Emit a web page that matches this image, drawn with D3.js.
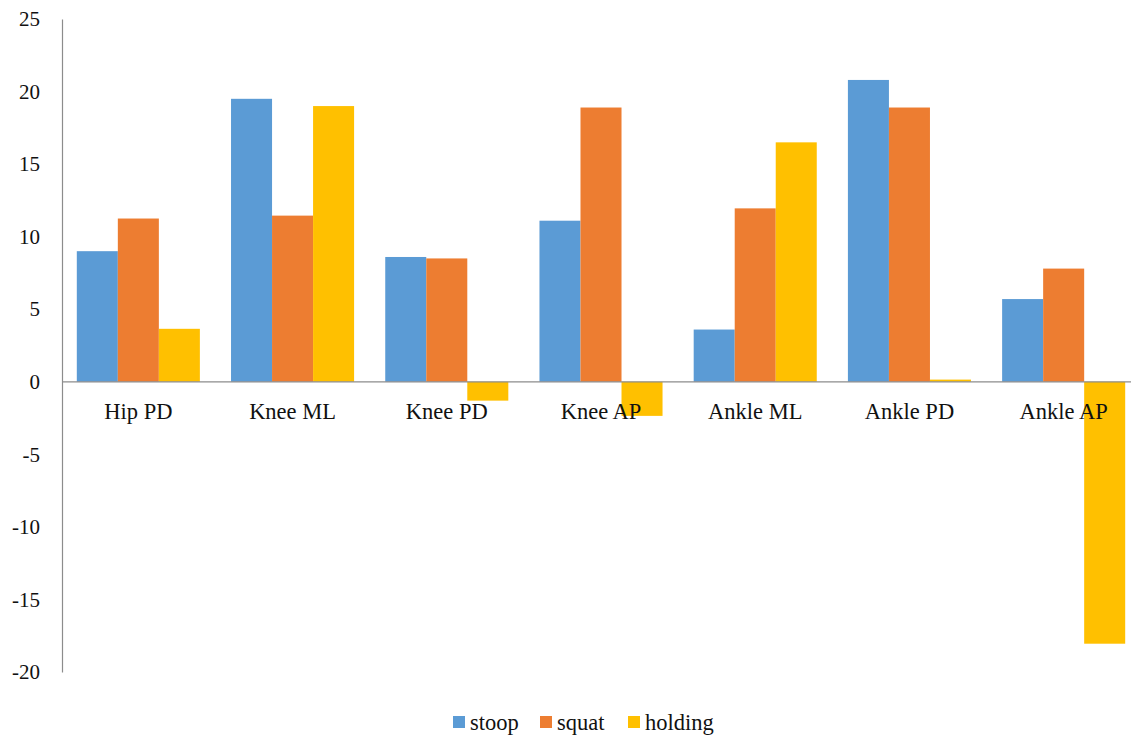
<!DOCTYPE html>
<html>
<head>
<meta charset="utf-8">
<script src="https://cdn.jsdelivr.net/npm/d3@7"></script>
<style>
  body { margin: 0; background: #fff; font-family: "Liberation Serif", serif; }
</style>
</head>
<body>
<svg id="chart" width="1131" height="735" font-family="Liberation Serif"></svg>
<script>
// Joint categories and per-condition values
const categories = ["Hip PD", "Knee ML", "Knee PD", "Knee AP", "Ankle ML", "Ankle PD", "Ankle AP"];
const seriesNames = ["stoop", "squat", "holding"];
const stoop   = [9.0, 19.5, 8.6, 11.1, 3.6, 20.8, 5.7];
const squat   = [11.25, 11.45, 8.5, 18.9, 11.95, 18.9, 7.8];
const holding = [3.65, 19.0, -1.3, -2.35, 16.5, 0.15, -18.05];
const yTicks  = [25, 20, 15, 10, 5, 0, -5, -10, -15, -20];
const colors  = ["#5b9bd5", "#ed7d31", "#ffc000"];

const seriesValues = [stoop, squat, holding];
const svg = d3.select("#chart");
const fontName = "Liberation Serif";

const plotLeft = 62, plotRight = 1140, plotTop = 19, plotBottom = 672;

const x = d3.scaleBand().domain(categories).range([plotLeft, plotRight]).paddingInner(0.202).paddingOuter(0.096);
const xs = d3.scaleBand().domain(seriesNames).range([0, x.bandwidth()]);
const y = d3.scaleLinear().domain([-20, 25]).range([plotBottom, plotTop]);

// Bars
const groups = svg.append("g").selectAll("g")
  .data(categories)
  .join("g")
  .attr("transform", d => `translate(${x(d)},0)`);

groups.selectAll("rect")
  .data((c, i) => seriesNames.map((s, j) => ({ s, j, v: seriesValues[j][i] })))
  .join("rect")
  .attr("x", d => xs(d.s))
  .attr("width", xs.bandwidth())
  .attr("y", d => y(Math.max(0, d.v)))
  .attr("height", d => Math.abs(y(d.v) - y(0)))
  .attr("fill", d => colors[d.j]);

// Vertical axis line and tick labels
const yAxis = d3.axisLeft(y).tickValues(yTicks).tickSize(0).tickPadding(22).tickFormat(d => String(d));
const ya = svg.append("g").attr("transform", `translate(${plotLeft},0)`).call(yAxis)
  .attr("font-family", fontName).attr("font-size", 21);
ya.select(".domain").attr("stroke", "#8c8c8c").attr("stroke-width", 1.2);
ya.selectAll("text").attr("fill", "#111").attr("font-family", fontName);

// Zero baseline
svg.append("line")
  .attr("x1", plotLeft).attr("x2", 1131)
  .attr("y1", y(0)).attr("y2", y(0))
  .attr("stroke", "#8c8c8c").attr("stroke-width", 1.2);

// Category labels
svg.append("g").selectAll("text")
  .data(categories)
  .join("text")
  .attr("x", d => x(d) + x.bandwidth() / 2)
  .attr("y", y(0) + 37)
  .attr("text-anchor", "middle")
  .attr("font-family", fontName)
  .attr("font-size", 22.5)
  .attr("fill", "#111")
  .text(d => d);

// Legend
const legendItems = [
  { name: "stoop", x: 453 },
  { name: "squat", x: 540 },
  { name: "holding", x: 628 }
];
const lg = svg.append("g").selectAll("g").data(legendItems).join("g")
  .attr("transform", d => `translate(${d.x},716)`);
lg.append("rect").attr("width", 12).attr("height", 12).attr("fill", (d, i) => colors[i]);
lg.append("text").attr("x", 17).attr("y", 14)
  .attr("font-family", fontName)
  .attr("font-size", 22.5).attr("fill", "#111").text(d => d.name);
</script>
</body>
</html>
